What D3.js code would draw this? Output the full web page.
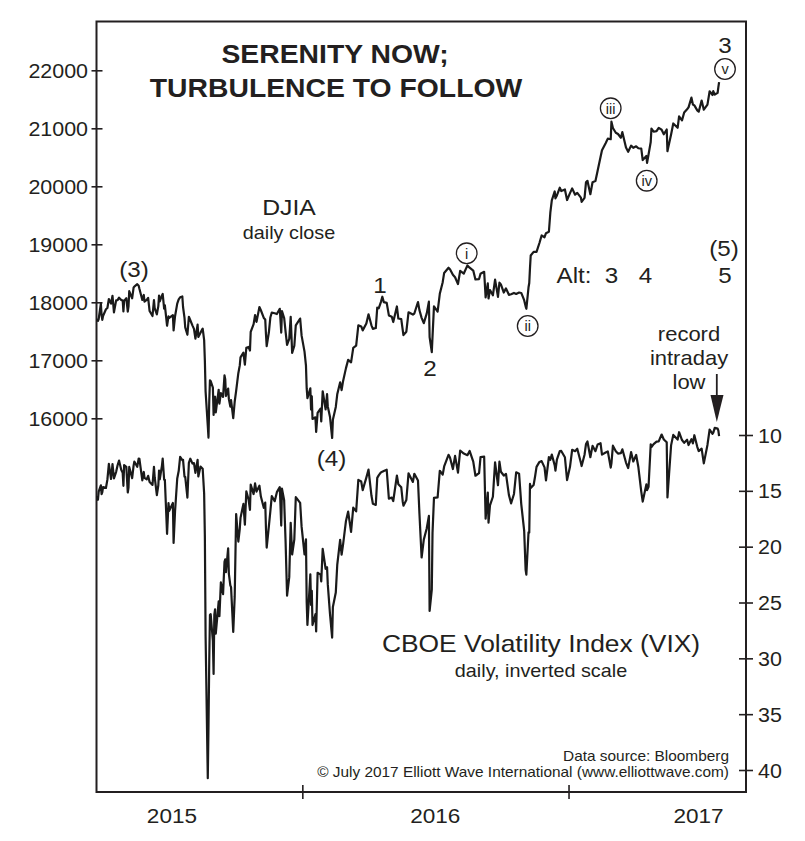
<!DOCTYPE html>
<html><head><meta charset="utf-8">
<script src="https://cdn.jsdelivr.net/npm/d3@7"></script>
<style>
body{margin:0;background:#fff}
svg{display:block}
text{font-family:"Liberation Sans",Arial,Helvetica,sans-serif;fill:#231f20}
</style>
</head><body>
<svg id="chart" width="805" height="841"></svg>
<script>
// ---------------- DATA ----------------
const djia = [
["2015-03-25",17718],["2015-03-26",17678],["2015-03-27",17712],["2015-03-30",17976],["2015-03-31",17776],
["2015-04-01",17698],["2015-04-02",17763],["2015-04-06",17880],["2015-04-08",17902],["2015-04-10",18057],
["2015-04-13",17977],["2015-04-15",18113],["2015-04-17",17826],["2015-04-20",18034],["2015-04-22",18038],
["2015-04-24",18080],["2015-04-27",18038],["2015-04-29",18035],["2015-04-30",17841],["2015-05-01",18024],
["2015-05-04",18070],["2015-05-06",17841],["2015-05-07",17924],["2015-05-08",18191],["2015-05-12",18068],
["2015-05-14",18252],["2015-05-15",18272],["2015-05-19",18312],["2015-05-21",18285],["2015-05-22",18232],
["2015-05-26",18041],["2015-05-28",18126],["2015-05-29",18011],["2015-06-01",18040],["2015-06-03",18076],
["2015-06-05",17849],["2015-06-09",17764],["2015-06-11",18039],["2015-06-12",17899],["2015-06-15",17791],
["2015-06-17",17935],["2015-06-18",18115],["2015-06-19",18015],["2015-06-22",18119],["2015-06-23",18144],
["2015-06-25",17890],["2015-06-26",17947],["2015-06-29",17596],["2015-07-01",17757],["2015-07-02",17730],
["2015-07-07",17777],["2015-07-08",17515],["2015-07-10",17760],["2015-07-13",17977],["2015-07-15",18050],
["2015-07-17",18086],["2015-07-20",18100],["2015-07-21",17919],["2015-07-23",17731],["2015-07-24",17568],
["2015-07-27",17440],["2015-07-29",17751],["2015-07-31",17690],["2015-08-03",17598],["2015-08-05",17541],
["2015-08-07",17373],["2015-08-10",17615],["2015-08-11",17402],["2015-08-14",17477],["2015-08-17",17546],
["2015-08-19",17349],["2015-08-20",16990],["2015-08-21",16460],["2015-08-24",15871],["2015-08-25",15666],
["2015-08-26",16285],["2015-08-27",16654],["2015-08-28",16643],["2015-08-31",16528],["2015-09-01",16058],
["2015-09-02",16351],["2015-09-03",16374],["2015-09-04",16102],["2015-09-08",16492],["2015-09-09",16253],
["2015-09-11",16433],["2015-09-14",16370],["2015-09-16",16740],["2015-09-17",16675],["2015-09-18",16384],
["2015-09-21",16511],["2015-09-22",16330],["2015-09-24",16201],["2015-09-25",16315],["2015-09-28",16001],
["2015-09-30",16285],["2015-10-02",16472],["2015-10-05",16777],["2015-10-07",16912],["2015-10-08",17050],
["2015-10-12",17131],["2015-10-14",16924],["2015-10-16",17216],["2015-10-19",17230],["2015-10-21",17168],
["2015-10-22",17489],["2015-10-26",17623],["2015-10-28",17780],["2015-10-30",17663],["2015-11-03",17918],
["2015-11-05",17863],["2015-11-09",17730],["2015-11-11",17702],["2015-11-12",17448],["2015-11-13",17245],
["2015-11-16",17483],["2015-11-18",17737],["2015-11-20",17823],["2015-11-24",17812],["2015-11-27",17798],
["2015-12-01",17888],["2015-12-03",17478],["2015-12-04",17848],["2015-12-07",17730],["2015-12-09",17492],
["2015-12-11",17265],["2015-12-14",17368],["2015-12-16",17749],["2015-12-18",17128],["2015-12-21",17251],
["2015-12-23",17603],["2015-12-29",17720],["2015-12-31",17425],
["2016-01-04",17149],["2016-01-06",16907],["2016-01-07",16515],["2016-01-08",16347],["2016-01-12",16516],
["2016-01-13",16151],["2016-01-14",16380],["2016-01-15",15988],["2016-01-19",16017],["2016-01-20",15766],
["2016-01-22",16094],["2016-01-26",16167],["2016-01-27",15945],["2016-01-29",16466],["2016-02-02",16154],
["2016-02-04",16417],["2016-02-05",16205],["2016-02-08",16027],["2016-02-11",15660],["2016-02-12",15974],
["2016-02-16",16196],["2016-02-18",16414],["2016-02-22",16620],["2016-02-24",16485],["2016-02-26",16640],
["2016-03-01",16865],["2016-03-04",17007],["2016-03-08",16965],["2016-03-11",17213],["2016-03-15",17251],
["2016-03-18",17602],["2016-03-22",17583],["2016-03-24",17516],["2016-03-29",17634],["2016-04-01",17793],
["2016-04-05",17603],["2016-04-07",17542],["2016-04-11",17556],["2016-04-13",17908],["2016-04-15",17897],
["2016-04-18",18004],["2016-04-20",18096],["2016-04-22",18003],["2016-04-26",17990],["2016-04-29",17774],
["2016-05-03",17750],["2016-05-05",17660],["2016-05-10",17928],["2016-05-12",17720],["2016-05-16",17711],
["2016-05-18",17526],["2016-05-19",17435],["2016-05-23",17493],["2016-05-26",17828],["2016-06-01",17789],
["2016-06-03",17807],["2016-06-08",18005],["2016-06-10",17865],["2016-06-13",17732],["2016-06-16",17640],
["2016-06-20",17804],["2016-06-23",18011],["2016-06-24",17400],["2016-06-27",17140],["2016-06-28",17409],
["2016-06-30",17930],["2016-07-05",17841],["2016-07-08",18147],["2016-07-12",18347],["2016-07-14",18506],
["2016-07-20",18595],["2016-07-22",18571],["2016-07-26",18474],["2016-07-29",18432],["2016-08-02",18314],
["2016-08-05",18543],["2016-08-10",18496],["2016-08-15",18636],["2016-08-18",18597],["2016-08-23",18547],
["2016-08-26",18395],["2016-08-31",18401],["2016-09-02",18492],["2016-09-07",18526],["2016-09-09",18085],
["2016-09-12",18325],["2016-09-13",18066],["2016-09-15",18212],["2016-09-19",18120],["2016-09-22",18392],
["2016-09-26",18094],["2016-09-28",18339],["2016-09-30",18308],["2016-10-04",18168],["2016-10-07",18240],
["2016-10-11",18129],["2016-10-14",18138],["2016-10-18",18162],["2016-10-21",18145],["2016-10-25",18169],
["2016-10-28",18161],["2016-11-01",18037],["2016-11-03",17930],["2016-11-04",17888],["2016-11-07",18259],
["2016-11-08",18332],["2016-11-09",18589],["2016-11-10",18807],["2016-11-14",18869],["2016-11-16",18868],
["2016-11-18",18868],["2016-11-22",19023],["2016-11-25",19152],["2016-11-29",19122],["2016-12-01",19191],
["2016-12-05",19216],["2016-12-07",19549],["2016-12-09",19757],["2016-12-13",19911],["2016-12-14",19792],
["2016-12-16",19843],["2016-12-20",19975],["2016-12-22",19918],["2016-12-27",19945],["2016-12-30",19763],
["2017-01-03",19882],["2017-01-06",19964],["2017-01-10",19855],["2017-01-13",19886],["2017-01-18",19804],
["2017-01-19",19732],["2017-01-23",19799],["2017-01-25",20069],["2017-01-27",20094],["2017-01-31",19864],
["2017-02-03",20071],["2017-02-07",20090],["2017-02-10",20269],["2017-02-14",20504],["2017-02-16",20620],
["2017-02-21",20743],["2017-02-24",20822],["2017-02-28",20812],["2017-03-01",21115],["2017-03-03",21005],
["2017-03-07",20924],["2017-03-10",20902],["2017-03-14",20837],["2017-03-16",20934],["2017-03-21",20668],
["2017-03-24",20596],["2017-03-28",20701],["2017-03-31",20663],["2017-04-04",20689],["2017-04-07",20656],
["2017-04-11",20651],["2017-04-13",20453],["2017-04-18",20523],["2017-04-19",20404],["2017-04-21",20548],
["2017-04-24",20763],["2017-04-25",20996],["2017-04-28",20941],["2017-05-02",20950],["2017-05-05",21007],
["2017-05-09",20975],["2017-05-12",20897],["2017-05-16",20980],["2017-05-17",20606],["2017-05-18",20663],
["2017-05-22",20894],["2017-05-25",21083],["2017-05-31",21009],["2017-06-02",21206],["2017-06-06",21136],
["2017-06-09",21272],["2017-06-13",21328],["2017-06-15",21360],["2017-06-19",21528],["2017-06-21",21410],
["2017-06-23",21395],["2017-06-27",21310],["2017-06-29",21287],["2017-07-03",21479],["2017-07-06",21320],
["2017-07-11",21409],["2017-07-14",21638],["2017-07-18",21574],["2017-07-19",21641],["2017-07-20",21611],
["2017-07-21",21580],["2017-07-25",21613],["2017-07-26",21711],["2017-07-27",21796]
];

const vix = [
["2015-03-25",15.44],["2015-03-26",15.80],["2015-03-27",15.07],["2015-03-30",14.51],["2015-03-31",15.29],
["2015-04-01",15.11],["2015-04-02",14.67],["2015-04-06",14.74],["2015-04-08",13.98],["2015-04-10",12.58],
["2015-04-13",13.94],["2015-04-15",12.60],["2015-04-17",13.89],["2015-04-20",13.30],["2015-04-22",12.71],
["2015-04-24",12.29],["2015-04-27",13.12],["2015-04-29",13.39],["2015-04-30",14.55],["2015-05-01",12.70],
["2015-05-04",12.85],["2015-05-06",15.15],["2015-05-07",14.71],["2015-05-08",12.86],["2015-05-12",13.86],
["2015-05-14",12.74],["2015-05-15",12.38],["2015-05-19",12.85],["2015-05-21",12.11],["2015-05-22",12.13],
["2015-05-26",14.06],["2015-05-28",13.31],["2015-05-29",13.84],["2015-06-01",13.97],["2015-06-03",13.66],
["2015-06-05",14.21],["2015-06-09",14.47],["2015-06-11",12.85],["2015-06-12",13.78],["2015-06-15",15.39],
["2015-06-17",14.50],["2015-06-18",13.19],["2015-06-19",13.96],["2015-06-22",12.74],["2015-06-23",12.11],
["2015-06-25",14.01],["2015-06-26",14.02],["2015-06-29",18.85],["2015-07-01",16.09],["2015-07-02",16.79],
["2015-07-07",16.09],["2015-07-08",19.66],["2015-07-10",16.83],["2015-07-13",13.90],["2015-07-15",13.23],
["2015-07-17",11.95],["2015-07-20",12.25],["2015-07-21",12.22],["2015-07-23",13.74],["2015-07-24",13.74],
["2015-07-27",15.60],["2015-07-29",12.50],["2015-07-31",12.12],["2015-08-03",12.56],["2015-08-05",12.51],
["2015-08-07",13.39],["2015-08-10",12.23],["2015-08-11",13.71],["2015-08-14",12.83],["2015-08-17",13.02],
["2015-08-19",15.25],["2015-08-20",19.14],["2015-08-21",28.03],["2015-08-24",40.74],["2015-08-25",36.02],
["2015-08-26",30.32],["2015-08-27",26.10],["2015-08-28",26.05],["2015-08-31",28.43],["2015-09-01",31.40],
["2015-09-02",26.09],["2015-09-03",25.61],["2015-09-04",27.80],["2015-09-08",24.90],["2015-09-09",26.23],
["2015-09-11",23.20],["2015-09-14",24.25],["2015-09-16",21.35],["2015-09-17",21.14],["2015-09-18",22.28],
["2015-09-21",20.14],["2015-09-22",22.44],["2015-09-24",23.47],["2015-09-25",23.62],["2015-09-28",27.63],
["2015-09-30",24.50],["2015-10-02",17.08],["2015-10-05",19.54],["2015-10-07",18.40],["2015-10-08",17.42],
["2015-10-12",16.17],["2015-10-14",18.03],["2015-10-16",15.05],["2015-10-19",15.75],["2015-10-21",16.70],
["2015-10-22",14.45],["2015-10-26",15.29],["2015-10-28",14.33],["2015-10-30",15.07],["2015-11-03",14.54],
["2015-11-05",15.51],["2015-11-09",16.52],["2015-11-11",16.06],["2015-11-12",18.37],["2015-11-13",20.08],
["2015-11-16",18.16],["2015-11-18",16.85],["2015-11-20",15.47],["2015-11-24",15.93],["2015-11-27",15.12],
["2015-12-01",14.67],["2015-12-03",18.11],["2015-12-04",14.81],["2015-12-07",15.84],["2015-12-09",19.61],
["2015-12-11",24.39],["2015-12-14",22.73],["2015-12-16",17.86],["2015-12-18",20.70],["2015-12-21",19.34],
["2015-12-23",15.57],["2015-12-29",16.08],["2015-12-31",18.21],
["2016-01-04",20.70],["2016-01-06",19.34],["2016-01-07",24.99],["2016-01-08",27.01],["2016-01-12",22.47],
["2016-01-13",25.22],["2016-01-14",23.95],["2016-01-15",27.02],["2016-01-19",26.05],["2016-01-20",27.59],
["2016-01-22",22.34],["2016-01-26",22.50],["2016-01-27",23.11],["2016-01-29",20.20],["2016-02-02",21.98],
["2016-02-04",21.84],["2016-02-05",23.38],["2016-02-08",26.00],["2016-02-11",28.14],["2016-02-12",25.40],
["2016-02-16",24.11],["2016-02-18",21.64],["2016-02-22",19.38],["2016-02-24",20.72],["2016-02-26",19.81],
["2016-03-01",17.70],["2016-03-04",16.86],["2016-03-08",18.67],["2016-03-11",16.50],["2016-03-15",16.84],
["2016-03-18",14.02],["2016-03-22",14.17],["2016-03-24",14.94],["2016-03-29",13.82],["2016-04-01",13.10],
["2016-04-05",15.42],["2016-04-07",16.16],["2016-04-11",16.26],["2016-04-13",13.84],["2016-04-15",13.62],
["2016-04-18",13.35],["2016-04-20",13.28],["2016-04-22",13.22],["2016-04-26",13.11],["2016-04-29",15.70],
["2016-05-03",15.60],["2016-05-05",15.91],["2016-05-10",13.63],["2016-05-12",14.41],["2016-05-16",14.68],
["2016-05-18",15.95],["2016-05-19",16.33],["2016-05-23",15.82],["2016-05-26",13.43],["2016-06-01",14.20],
["2016-06-03",13.47],["2016-06-08",14.08],["2016-06-10",17.03],["2016-06-13",20.97],["2016-06-16",19.37],
["2016-06-20",18.37],["2016-06-23",17.25],["2016-06-24",25.76],["2016-06-27",23.85],["2016-06-28",18.75],
["2016-06-30",15.63],["2016-07-05",15.58],["2016-07-08",13.20],["2016-07-12",13.55],["2016-07-14",12.82],
["2016-07-20",11.77],["2016-07-22",12.02],["2016-07-26",13.05],["2016-07-29",11.87],["2016-08-02",13.37],
["2016-08-05",11.39],["2016-08-10",11.66],["2016-08-15",11.81],["2016-08-18",11.43],["2016-08-23",12.38],
["2016-08-26",13.65],["2016-08-31",13.42],["2016-09-02",11.98],["2016-09-07",11.94],["2016-09-09",17.50],
["2016-09-12",15.16],["2016-09-13",17.85],["2016-09-15",16.30],["2016-09-19",15.53],["2016-09-22",12.45],
["2016-09-26",14.50],["2016-09-28",12.39],["2016-09-30",13.29],["2016-10-04",13.63],["2016-10-07",13.48],
["2016-10-11",15.36],["2016-10-14",16.12],["2016-10-18",15.28],["2016-10-21",13.34],["2016-10-25",13.46],
["2016-10-28",16.19],["2016-11-01",18.56],["2016-11-03",22.08],["2016-11-04",22.51],["2016-11-07",18.71],
["2016-11-08",18.74],["2016-11-09",14.38],["2016-11-10",14.74],["2016-11-14",14.48],["2016-11-16",13.72],
["2016-11-18",12.85],["2016-11-22",12.41],["2016-11-25",12.34],["2016-11-29",12.90],["2016-12-01",14.07],
["2016-12-05",11.97],["2016-12-07",12.22],["2016-12-09",11.75],["2016-12-13",12.72],["2016-12-14",13.19],
["2016-12-16",12.20],["2016-12-20",11.44],["2016-12-22",11.43],["2016-12-27",11.99],["2016-12-30",14.04],
["2017-01-03",12.85],["2017-01-06",11.32],["2017-01-10",11.45],["2017-01-13",11.23],["2017-01-18",12.48],
["2017-01-19",12.78],["2017-01-23",11.77],["2017-01-25",10.81],["2017-01-27",10.58],["2017-01-31",11.99],
["2017-02-03",10.97],["2017-02-07",11.45],["2017-02-10",10.85],["2017-02-14",10.74],["2017-02-16",11.76],
["2017-02-21",11.57],["2017-02-24",11.47],["2017-02-28",12.92],["2017-03-01",12.54],["2017-03-03",10.96],
["2017-03-07",11.45],["2017-03-10",11.66],["2017-03-14",11.63],["2017-03-16",11.28],["2017-03-21",12.47],
["2017-03-24",12.96],["2017-03-28",11.53],["2017-03-31",12.37],["2017-04-04",11.79],["2017-04-07",12.87],
["2017-04-11",15.07],["2017-04-13",15.96],["2017-04-18",14.42],["2017-04-19",14.93],["2017-04-21",14.63],
["2017-04-24",10.84],["2017-04-25",11.07],["2017-04-28",10.82],["2017-05-02",10.59],["2017-05-05",10.57],
["2017-05-09",9.96],["2017-05-12",10.40],["2017-05-16",10.65],["2017-05-17",15.59],["2017-05-18",14.66],
["2017-05-22",10.93],["2017-05-25",9.99],["2017-05-31",10.41],["2017-06-02",9.75],["2017-06-06",10.45],
["2017-06-09",10.70],["2017-06-13",10.42],["2017-06-15",10.90],["2017-06-19",10.37],["2017-06-21",10.75],
["2017-06-23",10.02],["2017-06-27",11.06],["2017-06-29",11.44],["2017-07-03",11.22],["2017-07-06",12.54],
["2017-07-11",10.89],["2017-07-14",9.51],["2017-07-18",9.89],["2017-07-19",9.79],["2017-07-20",9.58],
["2017-07-21",9.36],["2017-07-25",9.43],["2017-07-26",9.60],["2017-07-27",10.11]
];

const djiaTicks = [16000,17000,18000,19000,20000,21000,22000];
const vixTicks = [10,15,20,25,30,35,40];
const yearBoundaries = ["2016-01-01","2017-01-01"];
const yearLabelDates = ["2015-07-05","2016-07-01","2017-06-28"];
const yearLabels = ["2015","2016","2017"];

// ---------------- CHART ----------------
const parse = d3.timeParse("%Y-%m-%d");
const svg = d3.select("#chart");
const INK = "#231f20";
const SX = 1.1;
const L = 96.5, R = 746, T = 21.5, B = 792;

const x = d3.scaleTime().domain([parse("2015-03-24"), parse("2017-09-02")]).range([L, R]);
const yD = d3.scaleLinear().domain([16000, 22000]).range([418.3, 70.3]);
const yV = d3.scaleLinear().domain([10, 40]).range([435, 770]);

const djiaData = djia.map(d => ({date: parse(d[0]), v: d[1]}));
const vixData = vix.map(d => ({date: parse(d[0]), v: d[1]}));

function label(px, py, s, size, opt = {}) {
  return svg.append("text")
    .attr("transform", `translate(${px},${py}) scale(${opt.sx || SX},1)`)
    .attr("text-anchor", opt.anchor || "middle")
    .attr("font-size", size)
    .attr("font-weight", opt.weight || "normal")
    .text(s);
}

function styleAxis(g) {
  g.attr("font-family", null).attr("font-size", null);
  g.select(".domain").remove();
  g.selectAll(".tick line").attr("stroke", INK).attr("stroke-width", 1.6);
}

// left axis (DJIA)
svg.append("g").attr("transform", `translate(${L},0)`)
  .call(d3.axisLeft(yD).tickValues(djiaTicks).tickSize(-6).tickFormat(""))
  .call(styleAxis);
svg.append("g").attr("transform", `translate(${L},0)`)
  .call(d3.axisLeft(yD).tickValues(djiaTicks).tickSize(5).tickFormat(d3.format("d")))
  .call(styleAxis)
  .call(g => g.selectAll(".tick text")
    .attr("x", null).attr("dy", "0.36em").attr("fill", INK)
    .attr("text-anchor", "end").attr("font-size", 19.5)
    .attr("transform", `translate(-8.5,0) scale(${SX},1)`));

// right axis (VIX, inverted)
svg.append("g").attr("transform", `translate(${R},0)`)
  .call(d3.axisRight(yV).tickValues(vixTicks).tickSize(-7).tickFormat(""))
  .call(styleAxis);
svg.append("g").attr("transform", `translate(${R},0)`)
  .call(d3.axisRight(yV).tickValues(vixTicks).tickSize(7).tickFormat(d3.format("d")))
  .call(styleAxis)
  .call(g => g.selectAll(".tick text")
    .attr("x", null).attr("dy", "0.36em").attr("fill", INK)
    .attr("text-anchor", "start").attr("font-size", 19.5)
    .attr("transform", `translate(12,0) scale(${SX},1)`));

// bottom axis
const yb = yearBoundaries.map(parse);
svg.append("g").attr("transform", `translate(0,${B})`)
  .call(d3.axisBottom(x).tickValues(yb).tickSize(7).tickFormat(""))
  .call(styleAxis);
svg.append("g").attr("transform", `translate(0,${B})`)
  .call(d3.axisBottom(x).tickValues(yb).tickSize(-7).tickFormat(""))
  .call(styleAxis);
svg.append("g").attr("transform", `translate(0,${B})`)
  .call(d3.axisBottom(x).tickValues(yearLabelDates.map(parse)).tickSize(0)
        .tickFormat((d, i) => yearLabels[i]))
  .call(styleAxis)
  .call(g => g.selectAll(".tick text")
    .attr("y", null).attr("dy", null).attr("fill", INK)
    .attr("text-anchor", "middle").attr("font-size", 20.5)
    .attr("transform", `translate(0,31) scale(${SX},1)`));

// frame
svg.append("rect").attr("x", L).attr("y", T).attr("width", R - L).attr("height", B - T)
  .attr("fill", "none").attr("stroke", INK).attr("stroke-width", 2);

// series
const lineD = d3.line().x(d => x(d.date)).y(d => yD(d.v));
const lineV = d3.line().x(d => x(d.date)).y(d => yV(d.v));
svg.append("path").datum(djiaData).attr("d", lineD)
  .attr("fill", "none").attr("stroke", "#1a1a1a").attr("stroke-width", 2.2).attr("stroke-linejoin", "round");
svg.append("path").datum(vixData).attr("d", lineV)
  .attr("fill", "none").attr("stroke", "#1a1a1a").attr("stroke-width", 2.2).attr("stroke-linejoin", "round");

// titles
label(335, 63, "SERENITY NOW;", 26, {weight: "bold", sx: 1.09});
label(336, 96.5, "TURBULENCE TO FOLLOW", 26, {weight: "bold", sx: 1.09});
label(289, 215, "DJIA", 22.5);
label(289, 239, "daily close", 18);
label(541, 652, "CBOE Volatility Index (VIX)", 24);
label(541, 676.5, "daily, inverted scale", 18);
label(729, 760.5, "Data source: Bloomberg", 14, {anchor: "end"});
label(729, 776.5, "\u00A9 July 2017 Elliott Wave International (www.elliottwave.com)", 14, {anchor: "end"});

// wave labels
label(134, 276.5, "(3)", 22);
label(380, 293, "1", 22);
label(430, 375.5, "2", 22);
label(331.5, 465.5, "(4)", 22);
label(725, 53, "3", 22);
label(724, 256, "(5)", 22);
label(556.5, 283.3, "Alt:", 22, {anchor: "start"});
label(611.5, 283.3, "3", 22);
label(645.5, 283.3, "4", 22);
label(725, 283.3, "5", 22);

// circled sub-waves
const circled = [["i", 466.7, 253.3], ["ii", 527.7, 326], ["iii", 610.7, 108.3], ["iv", 646.7, 180.7], ["v", 725, 69]];
circled.forEach(([t, cx, cy]) => {
  const g = svg.append("g").attr("transform", `translate(${cx},${cy})`);
  g.append("circle").attr("r", 10.3).attr("fill", "#fff").attr("stroke", INK).attr("stroke-width", 1.3);
  g.append("text").attr("text-anchor", "middle").attr("dy", "0.36em").attr("font-size", 14.5).text(t);
});

// record intraday low note with arrow
label(689, 340.5, "record", 20);
label(689, 365, "intraday", 20);
label(689, 389.3, "low", 20);
svg.append("line").attr("x1", 716.8).attr("x2", 716.8).attr("y1", 374).attr("y2", 398)
  .attr("stroke", INK).attr("stroke-width", 1.8);
svg.append("path").attr("d", "M710.5,395 L723.5,395 L716.8,422 Z").attr("fill", INK);
</script>
</body></html>
